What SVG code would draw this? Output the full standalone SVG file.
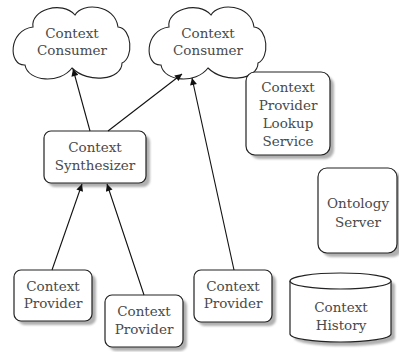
<svg xmlns="http://www.w3.org/2000/svg" width="399" height="352" viewBox="0 0 399 352">
  <style>
    .box { fill: #ffffff; stroke: #222222; stroke-width: 1.2; }
    .shadow { fill: #b0b0b0; filter: url(#soft); }
    .cloud { fill: #ffffff; stroke: #222222; stroke-width: 1.1; }
    .label { font-family: "DejaVu Serif", "Liberation Serif", serif; font-size: 13.5px; fill: #4a4a4a; text-anchor: middle; }
    .edge { stroke: #111111; stroke-width: 1.1; fill: none; marker-end: url(#arrow); }
  </style>
  <defs>
    <filter id="soft" x="-10%" y="-10%" width="120%" height="120%">
      <feGaussianBlur stdDeviation="0.8"/>
    </filter>
    <marker id="arrow" viewBox="0 0 10 10" refX="10" refY="5" markerWidth="9" markerHeight="7" markerUnits="userSpaceOnUse" orient="auto">
      <path d="M0,0 L10,5 L0,10 Z" fill="#111111"/>
    </marker>
    <path id="cloudShape" d="M33,27 C30,10 62,0 75,15 C82,2 115,4 118,27 C132,28 134,58 122,63 C122,80 88,84 72,68 C60,84 28,82 25,65 C8,66 8,30 33,27 Z"/>
  </defs>

  <rect width="399" height="352" fill="#ffffff"/>

  <!-- consumers -->
  <g id="consumer1">
    <use href="#cloudShape" class="cloud"/>
    <text class="label" x="72" y="38">Context</text>
    <text class="label" x="72" y="55">Consumer</text>
  </g>
  <g id="consumer2">
    <use href="#cloudShape" class="cloud" transform="translate(136,0)"/>
    <text class="label" x="208" y="38">Context</text>
    <text class="label" x="208" y="55">Consumer</text>
  </g>

  <!-- synthesizer -->
  <g id="synthesizer">
    <rect class="shadow" x="48" y="135" width="102" height="52" rx="7"/>
    <rect class="box" x="44" y="131" width="102" height="52" rx="7"/>
    <text class="label" x="95" y="152">Context</text>
    <text class="label" x="95" y="170">Synthesizer</text>
  </g>

  <!-- providers -->
  <g id="provider1">
    <rect class="shadow" x="18" y="274" width="78" height="51" rx="7"/>
    <rect class="box" x="14" y="270" width="78" height="51" rx="7"/>
    <text class="label" x="53" y="291">Context</text>
    <text class="label" x="53" y="308">Provider</text>
  </g>
  <g id="provider2">
    <rect class="shadow" x="109" y="299" width="78" height="52" rx="7"/>
    <rect class="box" x="105" y="295" width="78" height="52" rx="7"/>
    <text class="label" x="144" y="316">Context</text>
    <text class="label" x="144" y="334">Provider</text>
  </g>
  <g id="provider3">
    <rect class="shadow" x="198" y="274" width="78" height="52" rx="7"/>
    <rect class="box" x="194" y="270" width="78" height="52" rx="7"/>
    <text class="label" x="233" y="291">Context</text>
    <text class="label" x="233" y="308">Provider</text>
  </g>

  <!-- services -->
  <g id="lookup">
    <rect class="shadow" x="250" y="76" width="84" height="83" rx="9"/>
    <rect class="box" x="246" y="72" width="84" height="83" rx="9"/>
    <text class="label" x="288" y="92">Context</text>
    <text class="label" x="288" y="110">Provider</text>
    <text class="label" x="288" y="128">Lookup</text>
    <text class="label" x="288" y="146">Service</text>
  </g>
  <g id="ontology">
    <rect class="shadow" x="322" y="172" width="80" height="85" rx="9"/>
    <rect class="box" x="318" y="168" width="79" height="85" rx="9"/>
    <text class="label" x="358" y="208">Ontology</text>
    <text class="label" x="358" y="227">Server</text>
  </g>
  <g id="history">
    <path class="shadow" d="M294,285 A50.5,8 0 0 1 395,285 L395,338 A50.5,8 0 0 1 294,338 Z"/>
    <path class="box" d="M290,281 A50.5,8 0 0 1 391,281 L391,334 A50.5,8 0 0 1 290,334 Z"/>
    <path class="box" d="M290,281 A50.5,8 0 0 0 391,281" fill="none"/>
    <text class="label" x="341" y="312">Context</text>
    <text class="label" x="341" y="330">History</text>
  </g>

  <!-- connectors -->
  <g id="connectors">
    <line class="edge" x1="90" y1="131" x2="73" y2="69"/>
    <line class="edge" x1="108" y1="131" x2="182" y2="74"/>
    <line class="edge" x1="234" y1="270" x2="192" y2="78"/>
    <line class="edge" x1="52" y1="270" x2="82" y2="184"/>
    <line class="edge" x1="144" y1="295" x2="107" y2="184"/>
  </g>
</svg>
